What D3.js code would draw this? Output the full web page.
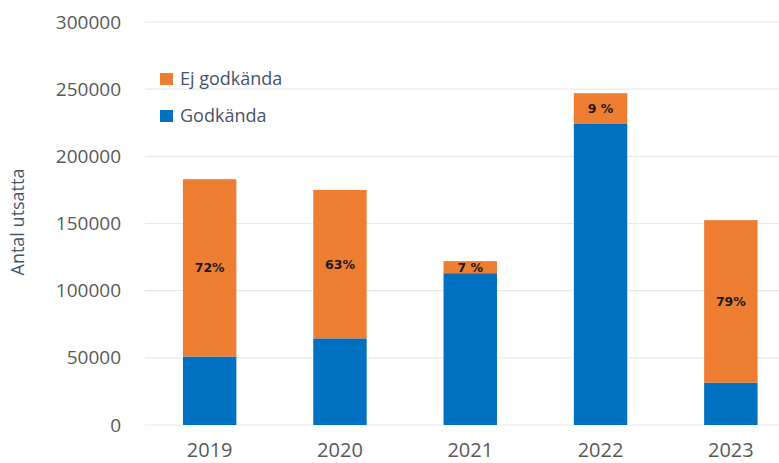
<!DOCTYPE html>
<html><head><meta charset="utf-8">
<script src="https://cdn.jsdelivr.net/npm/d3@7"></script>
<style>body{margin:0;background:#fff}svg{display:block}</style>
</head><body>
<svg id="c" width="779" height="463"></svg>
<script>
const years = ["2019","2020","2021","2022","2023"];
const godkanda = [51000, 64500, 113000, 224500, 31500];
const ejGodkanda = [132000, 110500, 9000, 22500, 121000];
const pctLabels = ["72%","63%","7 %","9 %","79%"];
const yTicks = [0,50000,100000,150000,200000,250000,300000];
const seriesNames = ["Ej godkända","Godkända"];
const colors = {"Ej godkända":"#ED7D31","Godkända":"#0070C0"};

const svg = d3.select("#c");
const x = d3.scaleBand().domain(years).range([144.5, 796]).paddingInner(0.59).paddingOuter(0.295);
const y = d3.scaleLinear().domain([0,300000]).range([425, 22]);

// gridlines
svg.append("g").selectAll("line").data(yTicks).join("line")
  .attr("x1",145).attr("x2",779).attr("y1",d=>y(d)).attr("y2",d=>y(d))
  .attr("stroke","#e9e9e9").attr("stroke-width",1.2);

// y axis
const yAxis = svg.append("g").attr("transform","translate(131,0)")
  .call(d3.axisLeft(y).tickValues(yTicks).tickFormat(d3.format("d")).tickSize(0).tickPadding(10));
yAxis.select(".domain").remove();
yAxis.selectAll("text").attr("font-family","Open Sans").attr("font-size",19).attr("fill","#595959");

// x axis
const xAxis = svg.append("g").attr("transform","translate(0,425)")
  .call(d3.axisBottom(x).tickSize(0).tickPadding(18));
xAxis.select(".domain").remove();
xAxis.selectAll("text").attr("font-family","Open Sans").attr("font-size",20).attr("fill","#595959");

// y title
svg.append("text").attr("transform","translate(24,222) rotate(-90)")
  .attr("text-anchor","middle").attr("font-family","Open Sans").attr("font-size",18)
  .attr("fill","#44546A").text("Antal utsatta");

// stacked bars
const data = years.map((yr,i)=>({year:yr, g:godkanda[i], e:ejGodkanda[i], p:pctLabels[i]}));
svg.append("g").selectAll("rect.g").data(data).join("rect")
  .attr("x",d=>x(d.year)).attr("width",x.bandwidth())
  .attr("y",d=>y(d.g)).attr("height",d=>y(0)-y(d.g)).attr("fill",colors["Godkända"]);
svg.append("g").selectAll("rect.e").data(data).join("rect")
  .attr("x",d=>x(d.year)).attr("width",x.bandwidth())
  .attr("y",d=>y(d.g+d.e)).attr("height",d=>y(d.g)-y(d.g+d.e)).attr("fill",colors["Ej godkända"]);
svg.append("g").selectAll("text").data(data).join("text")
  .attr("x",d=>x(d.year)+x.bandwidth()/2).attr("y",d=>y(d.g+d.e/2))
  .attr("dy","0.35em").attr("text-anchor","middle")
  .attr("font-family","DejaVu Sans").attr("font-weight","bold").attr("font-size",12.5)
  .attr("fill","#1a1a1a").text(d=>d.p);

// legend
const lg = svg.append("g");
seriesNames.forEach((s,i)=>{
  const yy = 79 + i*37;
  lg.append("rect").attr("x",160).attr("y",yy-6).attr("width",13).attr("height",12).attr("fill",colors[s]);
  lg.append("text").attr("x",180).attr("y",yy).attr("dy","0.35em")
    .attr("font-family","Open Sans").attr("font-size",18).attr("fill","#44546A").text(s);
});
</script>
</body></html>
